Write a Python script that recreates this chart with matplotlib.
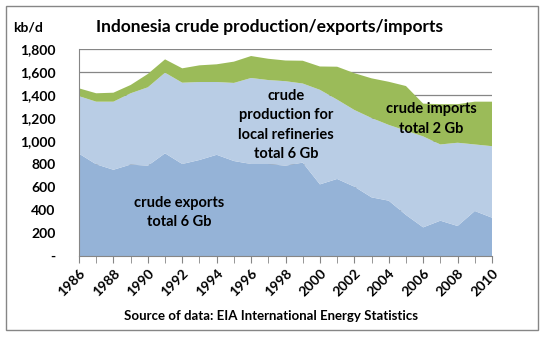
import numpy as np
import matplotlib
matplotlib.use("Agg")
import matplotlib.pyplot as plt
from matplotlib.patches import Rectangle

plt.rcParams['font.family'] = ['Lato', 'DejaVu Sans']
plt.rcParams['font.weight'] = 'bold'

# data, kb/d
years = np.arange(1986, 2011)
exports = [890, 797, 750, 795, 785, 893, 800, 835, 880, 826, 800, 800, 785,
           812, 623, 670, 603, 510, 481, 357, 249, 307, 261, 391, 333]
local_refining = [500, 545, 592, 620, 682, 701, 707, 678, 633, 679, 748, 730, 735,
                  688, 822, 690, 667, 690, 659, 733, 791, 663, 724, 579, 622]
imports = [68, 73, 78, 72, 116, 116, 125, 145, 154, 185, 191, 185, 180,
           198, 203, 286, 320, 345, 375, 388, 285, 350, 335, 372, 387]

yticks = [0, 200, 400, 600, 800, 1000, 1200, 1400, 1600, 1800]
ytick_labels = ['-', '200', '400', '600', '800', '1,000', '1,200', '1,400', '1,600', '1,800']
xtick_years = list(range(1986, 2011, 2))

col_exp = '#95B3D7'
col_local = '#B9CDE5'
col_imp = '#9BBB59'
grey = '#868686'

W, H = 547, 339
fig = plt.figure(figsize=(W / 100, H / 100), dpi=100)
fig.patches.append(Rectangle((6 / W, 1 - 330 / H), 532 / W, 324 / H, transform=fig.transFigure,
                             fill=False, edgecolor=grey, linewidth=1))

ax = fig.add_axes([79 / W, 1 - 256 / H, 413 / W, 207 / H])
ax.stackplot(years, exports, local_refining, imports,
             colors=[col_exp, col_local, col_imp], linewidth=0)
ax.set_xlim(1986, 2010)
ax.set_ylim(0, 1800)
ax.set_axisbelow(True)
ax.grid(axis='y', color=grey, linewidth=0.9)
ax.set_yticks(yticks)
ax.set_yticklabels(ytick_labels)
ax.set_xticks(years, minor=True)
ax.set_xticks(xtick_years)
ax.set_xticklabels([str(y) for y in xtick_years], rotation=45, ha='right',
                   rotation_mode='anchor')
ax.tick_params(axis='y', length=0, pad=17, labelsize=10)
ax.tick_params(axis='x', which='both', length=5, color=grey, labelsize=10, pad=3)
for s in ['top', 'right']:
    ax.spines[s].set_visible(False)
for s in ['left', 'bottom']:
    ax.spines[s].set_color(grey)

fig.text(270 / W, 1 - 27 / H, 'Indonesia crude production/exports/imports',
         ha='center', va='center', fontsize=12.5, fontweight='bold')
fig.text(13 / W, 1 - 27 / H, 'kb/d', ha='left', va='center', fontsize=10, fontweight='bold')
fig.text(271 / W, 1 - 316 / H, 'Source of data: EIA International Energy Statistics',
         ha='center', va='center', fontsize=9.5, fontweight='bold')

ax.text(1991.8, 380, 'crude exports\ntotal 6 Gb', ha='center', va='center',
        fontsize=10.5, fontweight='bold', linespacing=1.5)
ax.text(1998.05, 1140, 'crude\nproduction for\nlocal refineries\ntotal 6 Gb', ha='center',
        va='center', fontsize=10.5, fontweight='bold', linespacing=1.5)
ax.text(2006.45, 1190, 'crude imports\ntotal 2 Gb', ha='center', va='center',
        fontsize=10.5, fontweight='bold', linespacing=1.5)

fig.savefig('out.png', dpi=100)
